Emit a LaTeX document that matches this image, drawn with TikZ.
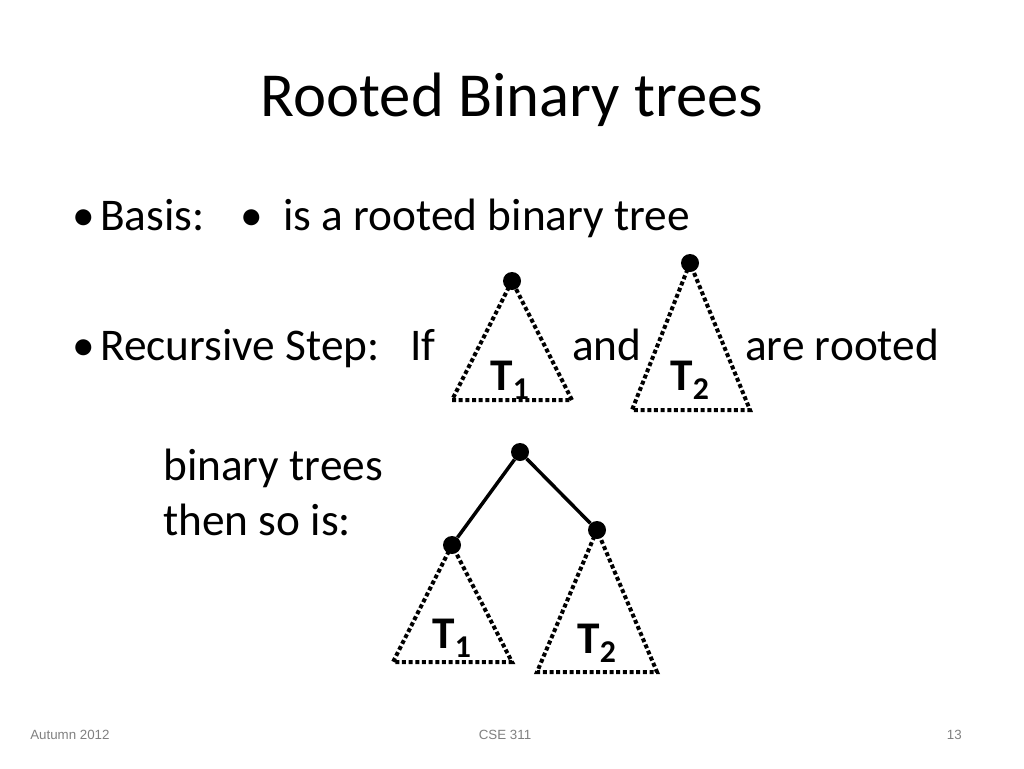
\documentclass[tikz,border=0pt]{standalone}
\usepackage{fontspec}
\setmainfont{Carlito}
\newfontfamily\foot{Liberation Sans}
\begin{document}
\begin{tikzpicture}[x=0.75pt,y=-0.75pt,
  dotn/.style={circle,fill=black,inner sep=0pt,minimum size=13.5pt},
  tri/.style={line width=3pt,dash pattern=on 3pt off 2pt},
  edge/.style={line width=2.6pt},
  txt/.style={font=\fontsize{34}{40}\selectfont,anchor=base west,inner sep=0pt},
  lab/.style={font=\fontsize{34}{40}\selectfont\bfseries,inner sep=0pt},
  ft/.style={font=\foot\fontsize{10}{12}\selectfont,text=gray,inner sep=0pt}]
\useasboundingbox (0,0) rectangle (1024,768);
\node[font=\fontsize{47}{56}\selectfont,inner sep=0pt] (title) at (512,100) {Rooted Binary trees};
\node[txt] (b1) at (72,230) {\textbullet};
\node[txt] (basis) at (100,230) {Basis:};
\node[txt] (basis2) at (240,230) {\textbullet\ \ is a rooted binary tree};
\node[txt] (b2) at (72,360) {\textbullet};
\node[txt] (rec) at (100,360) {Recursive Step:\ \ \ If};
\node[txt] (and) at (572,360) {and};
\node[txt] (are) at (745,360) {are rooted};
\node[txt] (bt) at (163,480) {binary trees};
\node[txt] (then) at (163,535) {then so is:};
% T1 top
\node[dotn] (a) at (512,281) {};
\coordinate (aL) at (452,400); \coordinate (aR) at (572,400);
\draw[tri] (a.center) -- (aL) -- (aR) -- cycle;
\node[lab] (la) at (510,380) {T$_\mathbf{1}$};
% T2 top
\node[dotn] (b) at (690,263) {};
\coordinate (bL) at (632,410); \coordinate (bR) at (750,410);
\draw[tri] (b.center) -- (bL) -- (bR) -- cycle;
\node[lab] (lb) at (690,380) {T$_\mathbf{2}$};
% bottom tree
\node[dotn] (r) at (520,452) {};
\node[dotn] (l) at (452,545) {};
\node[dotn] (rr) at (597,530) {};
\draw[edge] (r) -- (l);
\draw[edge] (r) -- (rr);
\coordinate (lL) at (393,662); \coordinate (lR) at (512,662);
\draw[tri] (l.center) -- (lL) -- (lR) -- cycle;
\coordinate (rL) at (537,672); \coordinate (rR) at (657,672);
\draw[tri] (rr.center) -- (rL) -- (rR) -- cycle;
\node[lab] (lc) at (452,638) {T$_\mathbf{1}$};
\node[lab] (ld) at (597,643) {T$_\mathbf{2}$};
\node[ft,anchor=west] (f1) at (30,735) {Autumn 2012};
\node[ft] (f2) at (505,735) {CSE 311};
\node[ft,anchor=east] (f3) at (962,735) {13};
\end{tikzpicture}
\end{document}
